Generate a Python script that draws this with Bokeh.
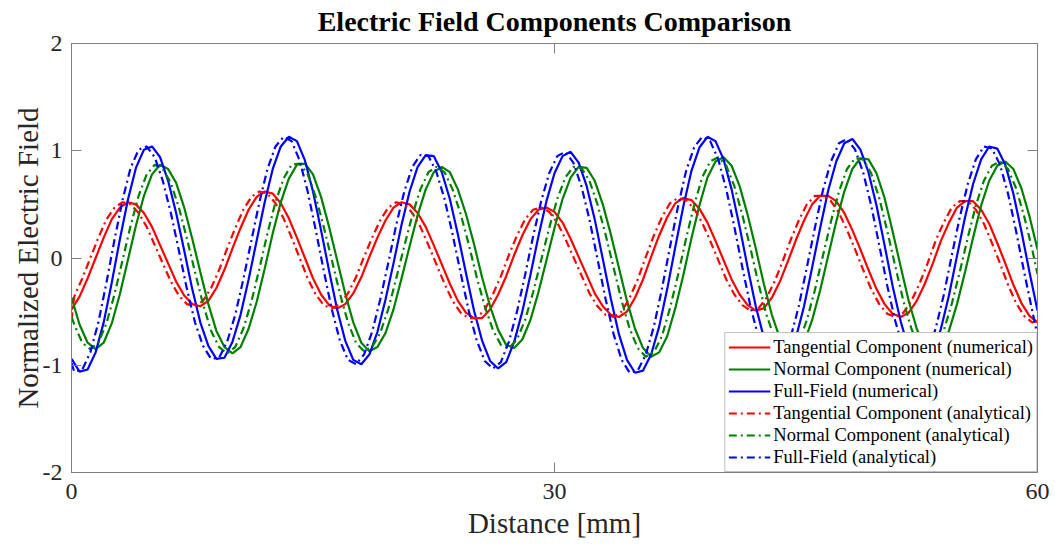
import numpy as np
from bokeh.plotting import figure
from bokeh.models import (Range1d, FixedTicker, LinearAxis, Legend, LegendItem,
                          ColumnDataSource)
from bokeh.embed import file_html
from bokeh.resources import INLINE

# ---------------- data ----------------
# numerical samples every 0.5 mm from 0 to 60 mm
distance_num = [i * 0.5 for i in range(121)]

tangential_num = [
    -0.48, -0.36, -0.19, 0.00, 0.19, 0.36, 0.47, 0.52,
    0.50, 0.42, 0.29, 0.12, -0.05, -0.22, -0.35, -0.43,
    -0.45, -0.40, -0.28, -0.11, 0.09, 0.28, 0.45, 0.57,
    0.62, 0.60, 0.51, 0.37, 0.19, 0.00, -0.19, -0.34,
    -0.44, -0.47, -0.43, -0.33, -0.18, 0.01, 0.19, 0.35,
    0.47, 0.52, 0.50, 0.42, 0.29, 0.12, -0.06, -0.24,
    -0.40, -0.51, -0.56, -0.56, -0.48, -0.34, -0.17, 0.03,
    0.21, 0.36, 0.45, 0.47, 0.43, 0.33, 0.18, 0.01,
    -0.16, -0.33, -0.45, -0.53, -0.55, -0.50, -0.37, -0.20,
    0.01, 0.21, 0.38, 0.51, 0.56, 0.54, 0.46, 0.33,
    0.16, -0.02, -0.20, -0.34, -0.44, -0.49, -0.47, -0.37,
    -0.22, -0.03, 0.17, 0.35, 0.50, 0.58, 0.58, 0.53,
    0.42, 0.26, 0.08, -0.11, -0.29, -0.43, -0.52, -0.55,
    -0.51, -0.40, -0.24, -0.05, 0.16, 0.33, 0.47, 0.53,
    0.53, 0.45, 0.32, 0.14, -0.05, -0.25, -0.42, -0.54, -0.60]

normal_num = [
    -0.37, -0.62, -0.79, -0.85, -0.79, -0.61, -0.34, -0.02,
    0.30, 0.58, 0.78, 0.87, 0.83, 0.70, 0.47, 0.18,
    -0.13, -0.43, -0.68, -0.83, -0.89, -0.83, -0.66, -0.41,
    -0.10, 0.23, 0.52, 0.74, 0.87, 0.88, 0.78, 0.57,
    0.29, -0.02, -0.33, -0.60, -0.79, -0.87, -0.83, -0.70,
    -0.48, -0.19, 0.11, 0.40, 0.64, 0.80, 0.85, 0.80,
    0.64, 0.41, 0.13, -0.18, -0.45, -0.67, -0.81, -0.84,
    -0.76, -0.58, -0.32, -0.02, 0.28, 0.55, 0.75, 0.85,
    0.84, 0.72, 0.50, 0.22, -0.09, -0.40, -0.66, -0.84,
    -0.92, -0.88, -0.73, -0.47, -0.16, 0.18, 0.49, 0.75,
    0.90, 0.94, 0.86, 0.67, 0.40, 0.09, -0.24, -0.53,
    -0.75, -0.88, -0.89, -0.79, -0.58, -0.30, 0.02, 0.34,
    0.62, 0.83, 0.93, 0.92, 0.79, 0.56, 0.25, -0.08,
    -0.40, -0.66, -0.84, -0.90, -0.84, -0.68, -0.43, -0.13,
    0.19, 0.49, 0.72, 0.86, 0.90, 0.83, 0.65, 0.39, 0.08]

full_num = [
    -0.94, -1.06, -1.04, -0.88, -0.60, -0.23, 0.17, 0.54,
    0.84, 1.01, 1.04, 0.94, 0.72, 0.42, 0.07, -0.29,
    -0.60, -0.82, -0.94, -0.93, -0.78, -0.53, -0.20, 0.16,
    0.52, 0.83, 1.04, 1.13, 1.09, 0.91, 0.62, 0.26,
    -0.12, -0.48, -0.77, -0.95, -0.99, -0.90, -0.69, -0.39,
    -0.05, 0.31, 0.62, 0.85, 0.96, 0.95, 0.80, 0.55,
    0.22, -0.14, -0.49, -0.77, -0.96, -1.03, -0.97, -0.78,
    -0.50, -0.16, 0.20, 0.53, 0.79, 0.95, 0.99, 0.89,
    0.67, 0.36, -0.01, -0.38, -0.71, -0.95, -1.07, -1.05,
    -0.90, -0.64, -0.29, 0.10, 0.48, 0.81, 1.03, 1.13,
    1.09, 0.92, 0.64, 0.29, -0.09, -0.45, -0.74, -0.93,
    -1.00, -0.93, -0.74, -0.45, -0.09, 0.28, 0.63, 0.90,
    1.07, 1.11, 1.01, 0.80, 0.49, 0.12, -0.26, -0.59,
    -0.85, -1.00, -1.01, -0.89, -0.66, -0.35, 0.02, 0.38,
    0.69, 0.92, 1.04, 1.02, 0.87, 0.60, 0.25, -0.13, -0.49]

# analytical samples: 0, 0.17, 0.67, ..., 59.67, 60 mm
distance_ana = [0.0] + [round(0.17 + 0.5 * k, 2) for k in range(120)] + [60.0]

tangential_ana = [
    -0.58,
    -0.36, -0.19, 0.00, 0.19, 0.36, 0.47, 0.52,
    0.50, 0.42, 0.29, 0.12, -0.05, -0.22, -0.35, -0.43,
    -0.45, -0.40, -0.28, -0.11, 0.09, 0.28, 0.45, 0.57,
    0.62, 0.60, 0.51, 0.37, 0.19, 0.00, -0.19, -0.34,
    -0.44, -0.47, -0.43, -0.33, -0.18, 0.01, 0.19, 0.35,
    0.47, 0.52, 0.50, 0.42, 0.29, 0.12, -0.06, -0.24,
    -0.40, -0.51, -0.56, -0.56, -0.48, -0.34, -0.17, 0.03,
    0.21, 0.36, 0.45, 0.47, 0.43, 0.33, 0.18, 0.01,
    -0.16, -0.33, -0.45, -0.53, -0.55, -0.50, -0.37, -0.20,
    0.01, 0.21, 0.38, 0.51, 0.56, 0.54, 0.46, 0.33,
    0.16, -0.02, -0.20, -0.34, -0.44, -0.49, -0.47, -0.37,
    -0.22, -0.03, 0.17, 0.35, 0.50, 0.58, 0.58, 0.53,
    0.42, 0.26, 0.08, -0.11, -0.29, -0.43, -0.52, -0.55,
    -0.51, -0.40, -0.24, -0.05, 0.16, 0.33, 0.47, 0.53,
    0.53, 0.45, 0.32, 0.14, -0.05, -0.25, -0.42, -0.54, -0.60,
    -0.59]

normal_ana = [
    -0.55,
    -0.62, -0.79, -0.85, -0.79, -0.61, -0.34, -0.02,
    0.30, 0.58, 0.78, 0.87, 0.83, 0.70, 0.47, 0.18,
    -0.13, -0.43, -0.68, -0.83, -0.89, -0.83, -0.66, -0.41,
    -0.10, 0.23, 0.52, 0.74, 0.87, 0.88, 0.78, 0.57,
    0.29, -0.02, -0.33, -0.60, -0.79, -0.87, -0.83, -0.70,
    -0.48, -0.19, 0.11, 0.40, 0.64, 0.80, 0.85, 0.80,
    0.64, 0.41, 0.13, -0.18, -0.45, -0.67, -0.81, -0.84,
    -0.76, -0.58, -0.32, -0.02, 0.28, 0.55, 0.75, 0.85,
    0.84, 0.72, 0.50, 0.22, -0.09, -0.40, -0.66, -0.84,
    -0.92, -0.88, -0.73, -0.47, -0.16, 0.18, 0.49, 0.75,
    0.90, 0.94, 0.86, 0.67, 0.40, 0.09, -0.24, -0.53,
    -0.75, -0.88, -0.89, -0.79, -0.58, -0.30, 0.02, 0.34,
    0.62, 0.83, 0.93, 0.92, 0.79, 0.56, 0.25, -0.08,
    -0.40, -0.66, -0.84, -0.90, -0.84, -0.68, -0.43, -0.13,
    0.19, 0.49, 0.72, 0.86, 0.90, 0.83, 0.65, 0.39, 0.08,
    -0.15]

full_ana = [
    -0.98,
    -1.06, -1.04, -0.88, -0.60, -0.23, 0.17, 0.54,
    0.84, 1.01, 1.04, 0.94, 0.72, 0.42, 0.07, -0.29,
    -0.60, -0.82, -0.94, -0.93, -0.78, -0.53, -0.20, 0.16,
    0.52, 0.83, 1.04, 1.13, 1.09, 0.91, 0.62, 0.26,
    -0.12, -0.48, -0.77, -0.95, -0.99, -0.90, -0.69, -0.39,
    -0.05, 0.31, 0.62, 0.85, 0.96, 0.95, 0.80, 0.55,
    0.22, -0.14, -0.49, -0.77, -0.96, -1.03, -0.97, -0.78,
    -0.50, -0.16, 0.20, 0.53, 0.79, 0.95, 0.99, 0.89,
    0.67, 0.36, -0.01, -0.38, -0.71, -0.95, -1.07, -1.05,
    -0.90, -0.64, -0.29, 0.10, 0.48, 0.81, 1.03, 1.13,
    1.09, 0.92, 0.64, 0.29, -0.09, -0.45, -0.74, -0.93,
    -1.00, -0.93, -0.74, -0.45, -0.09, 0.28, 0.63, 0.90,
    1.07, 1.11, 1.01, 0.80, 0.49, 0.12, -0.26, -0.59,
    -0.85, -1.00, -1.01, -0.89, -0.66, -0.35, 0.02, 0.38,
    0.69, 0.92, 1.04, 1.02, 0.87, 0.60, 0.25, -0.13, -0.49,
    -0.72]

labels = [
    "Tangential Component (numerical)",
    "Normal Component (numerical)",
    "Full-Field (numerical)",
    "Tangential Component (analytical)",
    "Normal Component (analytical)",
    "Full-Field (analytical)",
]
x_ticks = [0, 30, 60]
y_ticks = [-2, -1, 0, 1, 2]

# ---------------- figure ----------------
FONT = "Liberation Serif"
AX = "#808080"
TXT = "#262626"

p = figure(width=1052, height=542, output_backend="svg", toolbar_location=None,
           x_range=Range1d(0, 60), y_range=Range1d(-2, 2),
           min_border_left=71, min_border_right=15, min_border_top=41,
           min_border_bottom=70,
           title="Electric Field Components Comparison")
p.title.text_font = FONT
p.title.text_font_size = "28px"
p.title.text_font_style = "bold"
p.title.text_color = "#000000"
p.title.align = "center"
p.title.vertical_align = "top"
p.title.standoff = 10
p.xgrid.visible = False
p.ygrid.visible = False
p.outline_line_color = AX
p.outline_line_width = 1
p.background_fill_color = "white"
p.border_fill_color = "white"

def style_axis(ax, ticks, show_labels=True):
    ax.ticker = FixedTicker(ticks=ticks)
    ax.axis_line_color = AX
    ax.major_tick_line_color = AX
    ax.major_tick_in = 10
    ax.major_tick_out = 0
    ax.minor_tick_line_color = None
    ax.major_label_text_font = FONT
    ax.major_label_text_color = TXT
    ax.major_label_text_font_size = "24px"
    ax.axis_label_text_font = FONT
    ax.axis_label_text_font_style = "normal"
    ax.axis_label_text_color = TXT
    ax.axis_label_text_font_size = "29px"
    # plain hyphen minus as in the reference
    ax.major_label_overrides = {t: (str(t) if show_labels else "") for t in ticks}
    if not show_labels:
        ax.major_label_standoff = 0
        ax.axis_label_standoff = 0

style_axis(p.xaxis[0], x_ticks)
style_axis(p.yaxis[0], y_ticks)
p.xaxis[0].axis_label = "Distance [mm]"
p.yaxis[0].axis_label = "Normalized Electric Field"
p.xaxis[0].major_label_standoff = 11
p.xaxis[0].axis_label_standoff = 5
p.yaxis[0].major_label_standoff = 9
p.yaxis[0].axis_label_standoff = -4

top_ax = LinearAxis()
style_axis(top_ax, x_ticks, show_labels=False)
p.add_layout(top_ax, "above")
right_ax = LinearAxis()
style_axis(right_ax, y_ticks, show_labels=False)
p.add_layout(right_ax, "right")

# ---------------- lines ----------------
src_num = ColumnDataSource(dict(x=distance_num, t=tangential_num,
                                n=normal_num, f=full_num))
src_ana = ColumnDataSource(dict(x=distance_ana, t=tangential_ana,
                                n=normal_ana, f=full_ana))
colors = ["#ff0000", "#008000", "#0000ff"]
renderers = []
for col, c in zip(["t", "n", "f"], colors):
    renderers.append(p.line("x", col, source=src_num, line_color=c, line_width=2.2))
for col, c in zip(["t", "n", "f"], colors):
    renderers.append(p.line("x", col, source=src_ana, line_color=c, line_width=2.2,
                            line_dash="8 4 2 4"))

legend = Legend(items=[LegendItem(label=l, renderers=[r]) for l, r in zip(labels, renderers)],
                location="bottom_right", margin=0, padding=3, spacing=0,
                label_standoff=3, glyph_width=42, glyph_height=22, label_height=22,
                label_text_font=FONT, label_text_font_size="18.5px",
                label_text_color="#000000",
                border_line_color=AX, border_line_width=1,
                background_fill_color="white", background_fill_alpha=1.0)
p.add_layout(legend)

open("out.html", "w").write(file_html(p, INLINE))
